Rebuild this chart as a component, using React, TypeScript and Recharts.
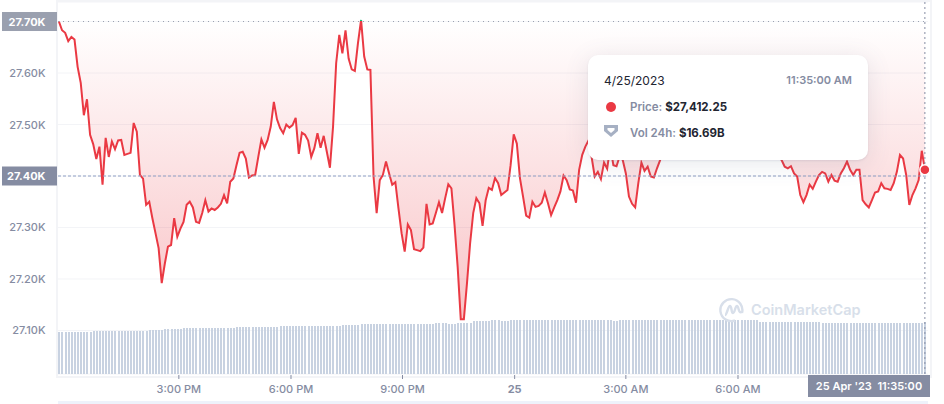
import { Area, Bar, CartesianGrid, ComposedChart, ReferenceDot, ReferenceLine, XAxis, YAxis } from 'recharts';

const RED = '#ea3943';
const MUTED = '#858ca2';
const DARK = '#222531';

// price per 5 minute step (the part behind the tooltip is a guess)
const prices = [
  27700, 27683, 27678, 27662, 27670, 27665, 27612, 27581, 27518, 27549,
  27480, 27462, 27433, 27457, 27383, 27474, 27437, 27467, 27452, 27469,
  27470, 27441, 27443, 27445, 27503, 27486, 27402, 27395, 27344, 27350,
  27318, 27289, 27260, 27192, 27230, 27263, 27266, 27318, 27282, 27298,
  27311, 27344, 27350, 27339, 27311, 27309, 27328, 27353, 27331, 27337,
  27334, 27339, 27346, 27363, 27347, 27389, 27395, 27421, 27445, 27447,
  27434, 27397, 27401, 27402, 27437, 27471, 27455, 27470, 27496, 27544,
  27510, 27493, 27483, 27500, 27494, 27499, 27513, 27443, 27484, 27480,
  27469, 27437, 27454, 27483, 27455, 27478, 27447, 27416, 27496, 27619,
  27674, 27638, 27683, 27628, 27607, 27604, 27658, 27703, 27632, 27607,
  27606, 27399, 27328, 27392, 27402, 27428, 27405, 27383, 27388, 27337,
  27289, 27253, 27306, 27295, 27258, 27256, 27254, 27261, 27346, 27306,
  27308, 27328, 27349, 27328, 27357, 27384, 27376, 27305, 27224, 27122,
  27122, 27192, 27269, 27328, 27357, 27347, 27303, 27353, 27377, 27373,
  27396, 27386, 27363, 27368, 27373, 27421, 27481, 27463, 27396, 27360,
  27323, 27319, 27350, 27340, 27342, 27348, 27368, 27347, 27324, 27339,
  27353, 27370, 27401, 27392, 27374, 27372, 27348, 27412, 27441, 27457,
  27469, 27437, 27399, 27408, 27394, 27426, 27414, 27457, 27421, 27419,
  27438, 27431, 27405, 27360, 27346, 27339, 27386, 27426, 27410, 27418,
  27399, 27397, 27415, 27431, 27445, 27460, 27452, 27470, 27488, 27475,
  27462, 27480, 27495, 27510, 27492, 27478, 27465, 27483, 27470, 27455,
  27462, 27478, 27490, 27472, 27458, 27447, 27466, 27480, 27468, 27452,
  27460, 27475, 27463, 27448, 27455, 27470, 27482, 27465, 27450,
  27444, 27452, 27438, 27431, 27418, 27415, 27419, 27405, 27399, 27363,
  27349, 27363, 27383, 27375, 27389, 27402, 27408, 27405, 27389, 27402,
  27391, 27389, 27405, 27415, 27428, 27412, 27402, 27412, 27412, 27353,
  27345, 27339, 27353, 27368, 27370, 27386, 27376, 27375, 27373, 27386,
  27408, 27441, 27434, 27402, 27344, 27363, 27376, 27392, 27449, 27412.25,
];

// 24h volume in billions, one bar per price
const volumes = [
  13.5, 13.5, 13.5, 13.5, 13.5, 13.5, 13.5, 13.5, 13.5, 13.5, 13.5,
  13.9, 13.9, 13.9, 13.9, 13.9, 13.9, 13.9, 13.9, 13.9, 13.9, 13.9, 13.9, 13.9, 13.9, 13.9, 13.9, 13.9, 13.9,
  14.3, 14.3, 14.3, 14.3, 14.3,
  14.6, 14.6, 14.6, 14.6, 14.6, 14.6,
  14.9, 14.9, 14.9, 14.9, 14.9, 14.9, 14.9, 14.9, 14.9, 14.9, 14.9, 14.9, 14.9, 14.9, 14.9, 14.9, 14.9,
  15.2, 15.2, 15.2, 15.2, 15.2, 15.2, 15.2, 15.2, 15.2, 15.2, 15.2, 15.2, 15.2, 15.2,
  15.4, 15.4, 15.4, 15.4, 15.4, 15.4, 15.4, 15.4, 15.4, 15.4, 15.4, 15.4, 15.4, 15.4,
  15.55, 15.55, 15.55, 15.55, 15.55, 15.55,
  15.9, 15.9, 15.9, 15.9, 15.9, 15.9,
  16.2, 16.2, 16.2, 16.2, 16.2, 16.2, 16.2, 16.2, 16.2, 16.2, 16.2, 16.2,
  16.2, 16.2, 16.2, 16.2, 16.2, 16.2, 16.2, 16.2, 16.2, 16.2, 16.2, 16.2,
  16.5, 16.5, 16.5, 16.5,
  16.2, 16.2, 16.2,
  16.6, 16.6, 16.6, 16.6, 16.6,
  17.1, 17.1, 17.1, 17.1, 17.1, 17.1,
  17.4, 17.4, 17.4,
  17.1, 17.1, 17.1,
  17.4, 17.4, 17.4, 17.4, 17.4, 17.4, 17.4, 17.4, 17.4, 17.4, 17.4,
  17.4, 17.4, 17.4, 17.4, 17.4, 17.4, 17.4, 17.4, 17.4, 17.4, 17.4,
  17.4, 17.4, 17.4, 17.4, 17.4, 17.4, 17.4, 17.4, 17.4, 17.4, 17.4,
  17.1, 17.1,
  17.4, 17.4, 17.4, 17.4, 17.4, 17.4, 17.4, 17.4, 17.4, 17.4, 17.4, 17.4, 17.4, 17.4, 17.4,
  17.4, 17.4, 17.4, 17.4, 17.4, 17.4, 17.4, 17.4, 17.4, 17.4, 17.4, 17.4, 17.4, 17.4, 17.4,
  17.4, 17.4, 17.4, 17.4, 17.4, 17.4, 17.4, 17.4, 17.4, 17.4, 17.4, 17.4, 17.4, 17.4, 17.4,
  16.85, 16.85, 16.85, 16.85, 16.85, 16.85, 16.85, 16.85, 16.85, 16.85,
  16.85, 16.85, 16.85, 16.85, 16.85, 16.85, 16.85, 16.85, 16.85, 16.85,
  16.5, 16.5, 16.5, 16.5, 16.5, 16.5, 16.5, 16.5, 16.5, 16.5, 16.5,
  16.4, 16.4,
  16.6, 16.6, 16.6, 16.6, 16.6, 16.6, 16.6, 16.6, 16.6, 16.6,
  16.6, 16.6, 16.6, 16.6, 16.6, 16.6, 16.6, 16.6, 16.6, 16.6, 16.69,
];

const priceTicks = [27100, 27200, 27300, 27400, 27500, 27600, 27700];
const timeTicks = [38.5, 74.5, 110.3, 146.3, 182, 218];
const timeLabels = ['3:00 PM', '6:00 PM', '9:00 PM', '25', '3:00 AM', '6:00 AM'];

const OPEN_PRICE = 27700;
const LAST_PRICE = 27412.25;
const REF_PRICE = 27400;

const chartData = prices.map((price, i) => ({ i, price, volume: volumes[i] }));

const PriceTick = ({ y, payload }: any) => {
  const boxed = payload.value === OPEN_PRICE || payload.value === REF_PRICE;
  const label = (payload.value / 1000).toFixed(2) + 'K';
  return (
    <g>
      {boxed && (
        <rect x={2} y={y - 9.5} width={55} height={19} fill={payload.value === OPEN_PRICE ? '#9aa0af' : '#858ca2'} />
      )}
      <text x={45.5} y={y + 4} textAnchor="end" fontSize={11} fontWeight={boxed ? 700 : 500} fill={boxed ? '#fff' : MUTED}>
        {label}
      </text>
    </g>
  );
};

const TimeTick = ({ x, payload }: any) => {
  const label = timeLabels[timeTicks.indexOf(payload.value)];
  return (
    <g>
      <line x1={x} x2={x} y1={375} y2={379} stroke={MUTED} />
      <text x={x} y={393} textAnchor="middle" fontSize={11} fontWeight={label === '25' ? 700 : 500} fill={MUTED}>
        {label}
      </text>
    </g>
  );
};

function PriceTooltip() {
  return (
    <div
      style={{
        position: 'absolute',
        left: 588,
        top: 55,
        width: 280,
        height: 105,
        background: '#fff',
        borderRadius: 10,
        boxShadow: '0 4px 24px rgba(88,102,126,0.14), 0 1px 2px rgba(88,102,126,0.12)',
      }}
    >
      <div style={{ position: 'absolute', left: 16, top: 18, fontSize: 12, color: DARK }}>4/25/2023</div>
      <div style={{ position: 'absolute', right: 16, top: 18, fontSize: 11, fontWeight: 600, color: MUTED }}>11:35:00 AM</div>
      <div style={{ position: 'absolute', left: 18, top: 47, width: 10, height: 10, borderRadius: 5, background: RED }} />
      <div style={{ position: 'absolute', left: 42, top: 45, fontSize: 11.5, fontWeight: 600, color: MUTED }}>
        Price: <span style={{ color: DARK, fontWeight: 700 }}>$27,412.25</span>
      </div>
      <svg style={{ position: 'absolute', left: 16, top: 69 }} width={14} height={14} viewBox="0 0 14 14">
        <path d="M0 1 H14 V7 L7 13 L0 7 Z" fill="#a6b0c3" />
        <path d="M3.5 4 H10.5 V6 L7 9 L3.5 6 Z" fill="#fff" />
      </svg>
      <div style={{ position: 'absolute', left: 42, top: 71, fontSize: 11.5, fontWeight: 600, color: MUTED }}>
        Vol 24h: <span style={{ color: DARK, fontWeight: 700 }}>$16.69B</span>
      </div>
    </div>
  );
}

export default function App() {
  return (
    <div
      style={{
        position: 'absolute',
        left: 0,
        top: 0,
        width: 944,
        height: 404,
        overflow: 'hidden',
        background: '#fff',
        fontFamily: 'Inter, sans-serif',
      }}
    >
      <div style={{ position: 'absolute', left: 56, top: 0, width: 872, height: 374, border: '2px solid #f3f4f7', borderBottomWidth: 2 }} />
      <ComposedChart
        width={944}
        height={404}
        data={chartData}
        margin={{ top: 2, right: 16, bottom: 0, left: 0 }}
        style={{ position: 'absolute', left: 0, top: 0 }}
      >
        <defs>
          <linearGradient id="fade" gradientUnits="userSpaceOnUse" x1="0" y1="21" x2="0" y2="320">
            <stop offset="0" stopColor={RED} stopOpacity={0} />
            <stop offset="1" stopColor={RED} stopOpacity={0.3} />
          </linearGradient>
          <linearGradient id="priceStroke" gradientUnits="userSpaceOnUse" x1="0" y1="0" x2="0" y2="404">
            <stop offset="0.0525" stopColor="#16c784" />
            <stop offset="0.0525" stopColor={RED} />
          </linearGradient>
        </defs>
        <CartesianGrid vertical={false} stroke="#f3f4f7" />
        <XAxis
          dataKey="i"
          type="number"
          domain={[-0.3, 279]}
          allowDataOverflow
          ticks={timeTicks}
          interval={0}
          height={30}
          axisLine={false}
          tickLine={false}
          tick={TimeTick}
        />
        <YAxis
          domain={[27015.5, 27737.9]}
          allowDataOverflow
          ticks={priceTicks}
          interval={0}
          width={58}
          axisLine={false}
          tickLine={false}
          tick={PriceTick}
        />
        <YAxis yAxisId="vol" hide domain={[0, 120.5]} allowDataOverflow />
        <Bar yAxisId="vol" dataKey="volume" fill="#c8d2e1" barSize={2} shapeRendering="crispEdges" isAnimationActive={false} />
        <Area
          type="linear"
          dataKey="price"
          baseValue={OPEN_PRICE}
          stroke="url(#priceStroke)"
          strokeWidth={2}
          fill="url(#fade)"
          fillOpacity={1}
          dot={false}
          activeDot={false}
          isAnimationActive={false}
        />
        <ReferenceLine y={OPEN_PRICE} stroke="#9aa0af" strokeDasharray="1 4" />
        <ReferenceLine y={REF_PRICE} stroke="#8fa0c4" strokeDasharray="3 2" />
        <ReferenceLine x={278} stroke="#858ca2" strokeDasharray="2 3" />
        <ReferenceDot x={278} y={LAST_PRICE} r={5} fill={RED} stroke="#fff" strokeWidth={1.5} />
      </ComposedChart>

      <div style={{ position: 'absolute', left: 58, top: 401, width: 870, height: 3, background: '#eef2fb' }} />
      <div
        style={{
          position: 'absolute',
          left: 808,
          top: 375,
          width: 122,
          height: 22,
          background: '#858ca2',
          color: '#fff',
          fontSize: 11,
          fontWeight: 600,
          lineHeight: '22px',
          textAlign: 'center',
          whiteSpace: 'pre',
        }}
      >
        {"25 Apr '23  11:35:00"}
      </div>

      <svg style={{ position: 'absolute', left: 719, top: 297 }} width={26} height={26} viewBox="0 0 26 26" fill="none" stroke="#d8dfea" strokeWidth={2.4}>
        <path d="M23 16 A11 11 0 1 0 16 23.5" />
        <path d="M6 18 C8 18 9 9 11 9 C13 9 12 16 14 16 C16 16 16 9 18 9 C20 9 19 17 23 15" />
      </svg>
      <div style={{ position: 'absolute', left: 751, top: 299, fontSize: 14.5, fontWeight: 600, color: '#d8dfea', lineHeight: '22px' }}>
        CoinMarketCap
      </div>

      <PriceTooltip />
    </div>
  );
}
